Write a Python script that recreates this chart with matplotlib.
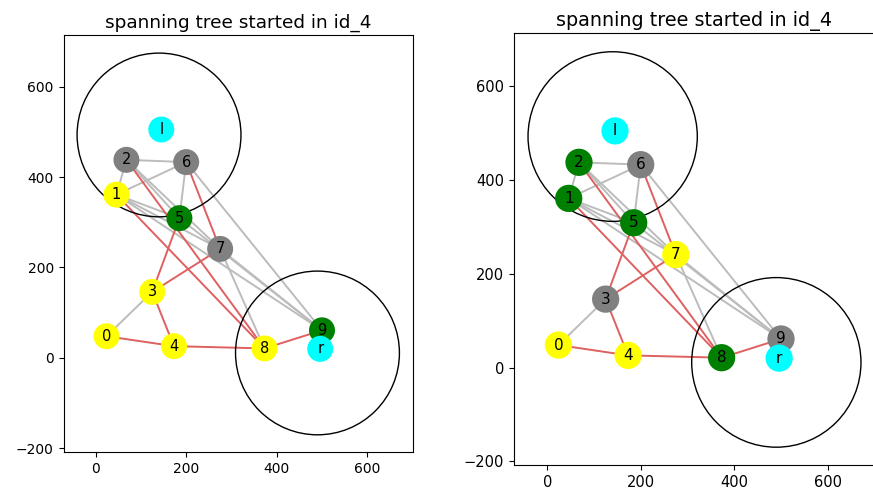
import matplotlib
matplotlib.use("Agg")
import matplotlib.pyplot as plt
from matplotlib.patches import Circle

# node positions (same in both panels)
node_names = ["0", "1", "2", "3", "4", "5", "6", "7", "8", "9", "l", "r"]
node_x = [24, 46, 68, 125, 173, 185, 200, 275, 373, 500, 145, 496]
node_y = [48, 361, 438, 146, 26, 309, 433, 241, 21, 61, 505, 20]

# node colours for each panel
colors_left = ["yellow", "yellow", "grey", "yellow", "yellow", "green",
               "grey", "grey", "yellow", "green", "cyan", "cyan"]
colors_right = ["yellow", "green", "green", "grey", "yellow", "green",
                "grey", "yellow", "green", "grey", "cyan", "cyan"]

# spanning tree edges (red) and the other edges (grey)
tree_edges = [("0", "4"), ("4", "8"), ("3", "4"), ("8", "9"), ("3", "5"),
              ("3", "7"), ("1", "8"), ("2", "8"), ("6", "7")]
other_edges = [("1", "2"), ("2", "6"), ("1", "6"), ("5", "6"), ("0", "3"),
               ("6", "9"), ("7", "8"), ("7", "9"), ("1", "5"), ("2", "5"),
               ("1", "7"), ("2", "7"), ("5", "9"), ("1", "9")]

# range circles around l and r
circle_x = [140, 490]
circle_y = [493, 11]
circle_r = [181, 181]

title = "spanning tree started in id_4"

W, H = 873, 499
fig = plt.figure(figsize=(W / 100, H / 100), dpi=100)
ax_left = fig.add_axes([63.5 / W, (H - 452) / H, 349.5 / W, 417 / H])
ax_right = fig.add_axes([514 / W, (H - 465) / H, 361 / W, 432 / H])

pos = {n: (x, y) for n, x, y in zip(node_names, node_x, node_y)}


def draw_panel(ax, colors, node_size, font, tick_font, title_font):
    for a, b in other_edges:
        ax.plot([pos[a][0], pos[b][0]], [pos[a][1], pos[b][1]],
                color="#bcbcbc", lw=1.4, zorder=1)
    for a, b in tree_edges:
        ax.plot([pos[a][0], pos[b][0]], [pos[a][1], pos[b][1]],
                color="#df6060", lw=1.4, zorder=1.2)
    for cx, cy, r in zip(circle_x, circle_y, circle_r):
        ax.add_patch(Circle((cx, cy), r, fill=False, ec="black", lw=1.0, zorder=1.5))
    ax.scatter(node_x, node_y, s=node_size, c=colors, zorder=2, linewidths=0)
    for n, x, y in zip(node_names, node_x, node_y):
        ax.text(x, y, n, ha="center", va="center", fontsize=font, zorder=3)
    ax.set_xlim(-71, 701)
    ax.set_ylim(-208, 714)
    ax.set_xticks([0, 200, 400, 600])
    ax.set_yticks([-200, 0, 200, 400, 600])
    ax.tick_params(labelsize=tick_font)
    ax.set_title(title, fontsize=title_font, pad=5)


draw_panel(ax_left, colors_left, 350, 10.5, 10, 13.3)
draw_panel(ax_right, colors_right, 385, 11, 10.5, 13.8)

fig.savefig("out.png", dpi=100)
